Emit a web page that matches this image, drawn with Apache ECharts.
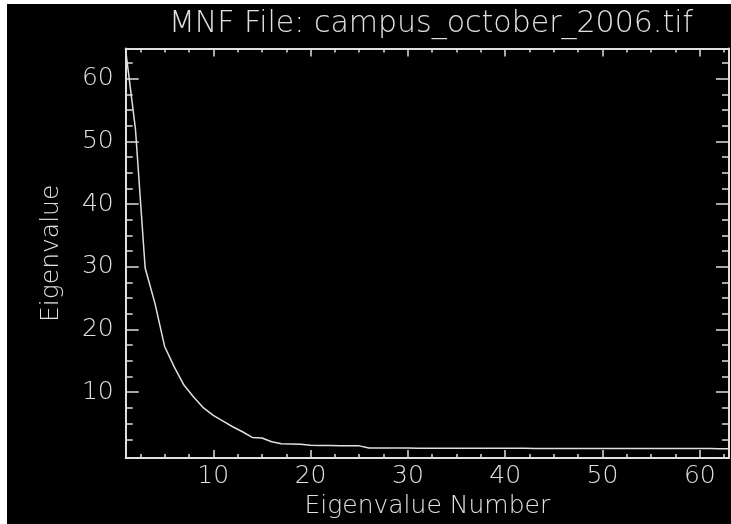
<!DOCTYPE html>
<html>
<head>
<meta charset="utf-8">
<script src="https://cdn.jsdelivr.net/npm/echarts@6/dist/echarts.min.js"></script>
<style>
html,body{margin:0;padding:0;background:#fff;width:731px;height:524px;overflow:hidden;}
#c{position:absolute;left:7px;top:4px;width:724px;height:520px;background:#000;}
</style>
</head>
<body>
<div id="c"></div>
<script>
// Eigenvalue number (x) and eigenvalue (y)
var eigenNumbers = [];
for (var i = 1; i <= 63; i++) eigenNumbers.push(i);
var eigenValues = [
  64.5, 52.0, 29.8, 24.2, 17.3, 14.0, 11.1, 9.2, 7.5, 6.3,
  5.4, 4.5, 3.7, 2.8, 2.7, 2.1, 1.8, 1.75, 1.7, 1.55,
  1.5, 1.5, 1.48, 1.46, 1.45, 1.12, 1.11, 1.1, 1.1, 1.1,
  1.09, 1.09, 1.08, 1.08, 1.08, 1.07, 1.07, 1.07, 1.06, 1.06,
  1.06, 1.06, 1.05, 1.05, 1.05, 1.05, 1.04, 1.04, 1.04, 1.04,
  1.04, 1.03, 1.03, 1.03, 1.03, 1.03, 1.02, 1.02, 1.02, 1.02,
  1.02, 1.01, 1.01
];
var xMajorTicks = [10, 20, 30, 40, 50, 60];
var xMinorTicks = [2.5, 5, 7.5, 12.5, 15, 17.5, 22.5, 25, 27.5, 32.5, 35, 37.5, 42.5, 45, 47.5, 52.5, 55, 57.5, 62.5];
var yMajorTicks = [10, 20, 30, 40, 50, 60];
var yMinorTicks = [2.5, 5, 7.5, 12.5, 15, 17.5, 22.5, 25, 27.5, 32.5, 35, 37.5, 42.5, 45, 47.5, 52.5, 55, 57.5, 62.5];
var xRange = [1, 63];
var yRange = [-0.5, 64.8];

var titleText = 'MNF File: campus_october_2006.tif';
var xName = 'Eigenvalue Number';
var yName = 'Eigenvalue';

var FG = '#e0e0e0';
var FONT = 'DejaVu Sans';
var FW = 200;

function xAxisDef(pos, ticks, len, showLabel, showLine) {
  return {
    type: 'value', position: pos, min: xRange[0], max: xRange[1],
    axisLine: {show: showLine, onZero: false, lineStyle: {color: FG, width: 2}},
    axisTick: {show: true, inside: true, length: len, customValues: ticks, lineStyle: {color: FG, width: 1.5}},
    axisLabel: {show: showLabel, customValues: ticks, color: FG, fontFamily: FONT, fontWeight: FW, fontSize: 25, margin: 6},
    splitLine: {show: false}
  };
}
function yAxisDef(pos, ticks, len, showLabel, showLine) {
  return {
    type: 'value', position: pos, min: yRange[0], max: yRange[1],
    axisLine: {show: showLine, onZero: false, lineStyle: {color: FG, width: 2}},
    axisTick: {show: true, inside: true, length: len, customValues: ticks, lineStyle: {color: FG, width: 1.5}},
    axisLabel: {show: showLabel, customValues: ticks, color: FG, fontFamily: FONT, fontWeight: FW, fontSize: 25, margin: 12},
    splitLine: {show: false}
  };
}

var xa0 = xAxisDef('bottom', xMajorTicks, 8, true, true);
xa0.name = xName; xa0.nameLocation = 'middle'; xa0.nameGap = 28;
xa0.nameTextStyle = {color: FG, fontFamily: FONT, fontWeight: FW, fontSize: 25};
var ya0 = yAxisDef('left', yMajorTicks, 13, true, true);
ya0.name = yName; ya0.nameLocation = 'middle'; ya0.nameGap = 62;
ya0.nameTextStyle = {color: FG, fontFamily: FONT, fontWeight: FW, fontSize: 25};

var chart = echarts.init(document.getElementById('c'), null, {renderer: 'canvas'});
chart.setOption({
  backgroundColor: '#000',
  animation: false,
  title: {
    text: titleText, left: 419, top: 0, textAlign: 'center',
    textStyle: {color: FG, fontFamily: FONT, fontSize: 30, fontWeight: FW}
  },
  grid: {left: 118.7, top: 44.5, right: 2, bottom: 56.5, containLabel: false},
  xAxis: [
    xa0,
    xAxisDef('bottom', xMinorTicks, 4, false, false),
    xAxisDef('top', xMajorTicks, 8, false, true),
    xAxisDef('top', xMinorTicks, 4, false, false)
  ],
  yAxis: [
    ya0,
    yAxisDef('left', yMinorTicks, 7, false, false),
    yAxisDef('right', yMajorTicks, 13, false, true),
    yAxisDef('right', yMinorTicks, 7, false, false)
  ],
  series: [{
    type: 'line', xAxisIndex: 0, yAxisIndex: 0,
    data: eigenNumbers.map(function (x, i) { return [x, eigenValues[i]]; }),
    showSymbol: false, symbol: 'none',
    lineStyle: {color: FG, width: 1.5}
  }]
});
</script>
</body>
</html>
